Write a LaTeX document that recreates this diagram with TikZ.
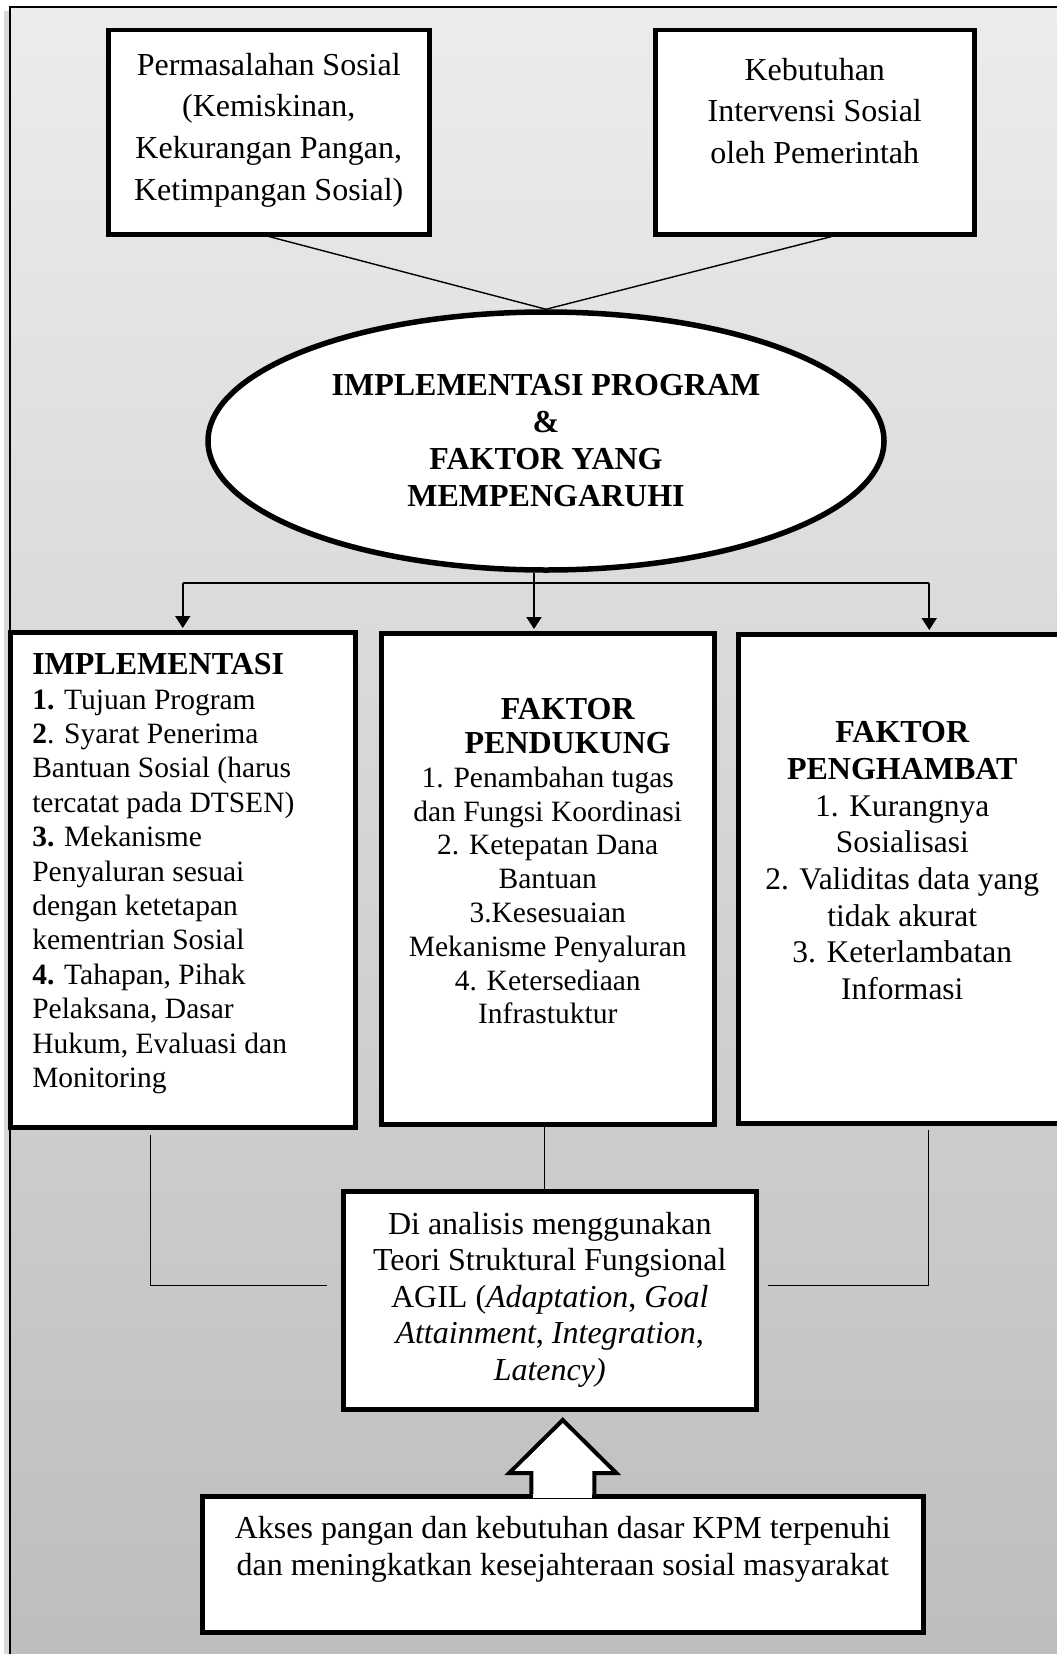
\documentclass[tikz,border=0pt]{standalone}
\usepackage{fontspec}
\setmainfont{Liberation Serif}
\usetikzlibrary{shapes.geometric,arrows.meta,calc}

\definecolor{bgtop}{RGB}{236,236,236}
\definecolor{bgbot}{RGB}{189,189,189}

\newcommand{\isikotak}[4]{\parbox[c][#1][t]{#2}{\vspace*{#3}#4}}
\newcommand{\ukuran}[2]{\fontsize{#1}{#2}\selectfont}

\begin{document}
\begin{tikzpicture}
[
    x=1pt, y=-1pt,
    kotak/.style={draw, line width=4.5pt, fill=white, inner sep=0pt, anchor=north west},
    elips/.style={ellipse, draw, line width=5.5pt, fill=white, inner sep=0pt, align=center},
    garis/.style={line width=1.4pt},
    panah/.style={line width=1.9pt, shorten >=2pt, -{Triangle[width=15pt,length=12pt]}},
]
\useasboundingbox (0,0) rectangle (1057,1654);
\fill[black!15] (4,11) rectangle (8.5,1670);
\shade[top color=bgtop, bottom color=bgbot] (10,7) rectangle (1075,1670);
\draw[line width=1.8pt] (10,1670) -- (10,7) -- (1075,7);

\node[kotak] (masalah) at (106,28)
{\isikotak{204pt}{321pt}{15.8pt}{\ukuran{32}{41.7}\centering\strut
Permasalahan Sosial\\(Kemiskinan,\\Kekurangan Pangan,\\Ketimpangan Sosial)}};
\node[kotak] (butuh) at (653,28)
{\isikotak{204pt}{319pt}{21pt}{\ukuran{32}{41.5}\centering\strut
Kebutuhan\\Intervensi Sosial\\oleh Pemerintah}};

\node[elips, minimum width=676pt, minimum height=258pt,
      font=\bfseries\fontsize{32}{37}\selectfont] (prog) at (546,441)
{IMPLEMENTASI PROGRAM\\\&\\FAKTOR YANG\\MEMPENGARUHI};

\draw[garis] (masalah.south) -- (prog.north);
\draw[garis] ([xshift=17pt]butuh.south) -- (prog.north);

\node[kotak, inner xsep=22pt] (impl) at (8,630)
{\isikotak{495pt}{301pt}{18.4pt}{\ukuran{29.5}{34.4}\raggedright\strut
{\bfseries\ukuran{32}{34.4}IMPLEMENTASI}\\
\textbf{1.} Tujuan Program\\
\textbf{2}. Syarat Penerima\\
Bantuan Sosial (harus\\
tercatat pada DTSEN)\\
\textbf{3.} Mekanisme\\
Penyaluran sesuai\\
dengan ketetapan\\
kementrian Sosial\\
\textbf{4.} Tahapan, Pihak\\
Pelaksana, Dasar\\
Hukum, Evaluasi dan\\
Monitoring}};

\node[kotak, inner xsep=6pt] (dukung) at (379,631)
{\isikotak{491pt}{321pt}{62.8pt}{\ukuran{29.5}{33.8}\centering\strut
{\bfseries\ukuran{32}{33.8}\hspace*{40pt}FAKTOR\\\hspace*{40pt}PENDUKUNG}\\
1. Penambahan tugas\\
dan Fungsi Koordinasi\\
2. Ketepatan Dana\\
Bantuan\\
3.Kesesuaian\\
Mekanisme Penyaluran\\
4. Ketersediaan\\
Infrastuktur}};

\node[kotak, inner xsep=6pt] (hambat) at (736,632)
{\isikotak{489pt}{316pt}{82.8pt}{\ukuran{31.5}{36.7}\centering\strut
{\bfseries\ukuran{32}{36.7}FAKTOR\\PENGHAMBAT}\\
1. Kurangnya\\
Sosialisasi\\
2. Validitas data yang\\
tidak akurat\\
3. Keterlambatan\\
Informasi}};

\coordinate (cabang) at (534,583);
\draw[garis, line width=1.6pt] (impl.north |- cabang) -- ([xshift=27pt]hambat.north |- cabang);
\draw[panah] (impl.north |- cabang) -- (impl.north);
\draw[panah] (prog.south -| cabang) -- (cabang |- dukung.north);
\draw[panah] ([xshift=27pt]hambat.north |- cabang) -- ([xshift=27pt]hambat.north);

\node[kotak, inner xsep=6pt] (agil) at (341,1189)
{\isikotak{218pt}{401pt}{17.5pt}{\ukuran{32}{36.5}\centering\strut
Di analisis menggunakan\\
Teori Struktural Fungsional\\
AGIL (\textit{Adaptation}, \textit{Goal}\\
\textit{Attainment}, \textit{Integration},\\
\textit{Latency)}}};

\draw[garis] ([xshift=-32pt,yshift=-5pt]impl.south) |- ([xshift=-14pt,yshift=15pt]agil.west);
\draw[garis] ([xshift=26pt,yshift=-4pt]hambat.south) |- ([xshift=9pt,yshift=15pt]agil.east);
\draw[garis] ([xshift=-3.5pt]dukung.south) -- ([xshift=-3.5pt]dukung.south |- agil.north);

\node[kotak, inner xsep=10pt] (akses) at (200,1494)
{\isikotak{136pt}{701pt}{16.1pt}{\ukuran{32}{37}\centering\strut
Akses pangan dan kebutuhan dasar KPM terpenuhi\\
dan meningkatkan kesejahteraan sosial masyarakat}};

\fill[white] ($(akses.north)+(-29.5,4)$) rectangle ($(akses.north)+(29.5,-21)$);
\draw[line width=4pt, fill=white]
    ($(akses.north)+(-31.5,0)$) -- ($(akses.north)+(-31.5,-21)$)
 -- ($(akses.north)+(-53.5,-21)$) -- ($(akses.north)+(0,-74)$)
 -- ($(akses.north)+(53.5,-21)$) -- ($(akses.north)+(31.5,-21)$)
 -- ($(akses.north)+(31.5,0)$);
\end{tikzpicture}
\end{document}
